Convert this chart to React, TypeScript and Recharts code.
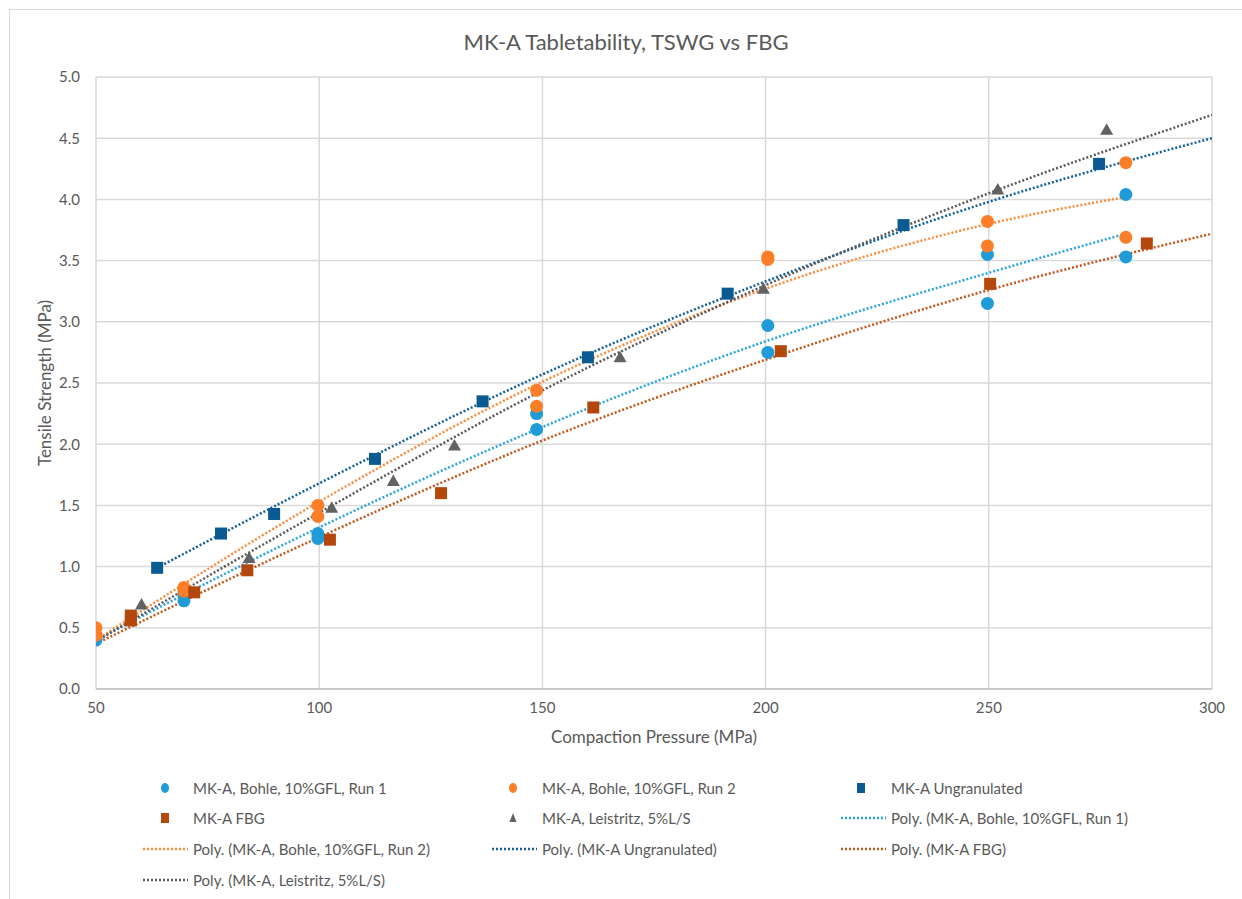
import React from 'react';
import {
  ComposedChart,
  Scatter,
  Line,
  XAxis,
  YAxis,
  CartesianGrid,
} from 'recharts';

// measured points (compaction pressure MPa, tensile strength MPa)
const run1P = [50, 50, 69.7, 69.7, 99.7, 99.7, 148.7, 148.7, 200.5, 200.5, 249.7, 249.7, 280.7, 280.7];
const run1TS = [0.4, 0.42, 0.72, 0.78, 1.27, 1.23, 2.25, 2.12, 2.97, 2.75, 3.55, 3.15, 4.04, 3.53];

const run2P = [50, 50, 69.7, 69.7, 99.7, 99.7, 148.7, 148.7, 200.5, 200.5, 249.7, 249.7, 280.7, 280.7];
const run2TS = [0.5, 0.44, 0.83, 0.8, 1.5, 1.41, 2.44, 2.31, 3.53, 3.51, 3.82, 3.62, 4.3, 3.69];

const ungranP = [63.7, 78, 89.9, 112.5, 136.6, 160.2, 191.5, 230.9, 274.7];
const ungranTS = [0.99, 1.27, 1.43, 1.88, 2.35, 2.71, 3.23, 3.79, 4.29];

const fbgP = [57.8, 57.8, 72, 83.9, 102.4, 127.3, 161.4, 203.4, 250.3, 285.4];
const fbgTS = [0.6, 0.56, 0.79, 0.97, 1.22, 1.6, 2.3, 2.76, 3.31, 3.64];

const leisP = [60.2, 84.3, 102.8, 116.6, 130.3, 167.4, 199.5, 252, 276.4];
const leisTS = [0.69, 1.07, 1.48, 1.7, 1.99, 2.71, 3.27, 4.08, 4.57];

// polynomial trendlines
const run1TrendP = [50, 100, 150, 200, 250, 280.7];
const run1TrendTS = [0.4, 1.32, 2.14, 2.84, 3.4, 3.72];
const run2TrendP = [50, 100, 150, 200, 250, 280.7];
const run2TrendTS = [0.4, 1.53, 2.51, 3.27, 3.8, 4.02];
const ungranTrendP = [63.7, 100, 150, 200, 250, 300];
const ungranTrendTS = [0.99, 1.68, 2.57, 3.33, 3.98, 4.5];
const fbgTrendP = [50, 100, 150, 200, 250, 300];
const fbgTrendTS = [0.37, 1.24, 2.03, 2.69, 3.26, 3.72];
const leisTrendP = [50, 100, 150, 200, 250, 300];
const leisTrendTS = [0.39, 1.44, 2.44, 3.3, 4.05, 4.69];

const xTicks = [50, 100, 150, 200, 250, 300];
const yTicks = [0, 0.5, 1, 1.5, 2, 2.5, 3, 3.5, 4, 4.5, 5];

const zip = (p: number[], ts: number[]) => p.map((v, i) => ({ p: v, ts: ts[i] }));

const C = {
  run1: '#1f9bd7',
  run2: '#fd7e28',
  ungran: '#0b5a91',
  fbg: '#b4470c',
  leis: '#626262',
  run1Trend: '#2aa4e0',
  run2Trend: '#ff8a3a',
  ungranTrend: '#14609a',
  fbgTrend: '#c4561a',
  leisTrend: '#5a5a5a',
};

const FONT = 'Lato, "Open Sans", sans-serif';
const TXT = '#595959';

const dot = (color: string) => (props: any) => (
  <circle cx={props.cx} cy={props.cy} r={6.5} fill={color} />
);
const square = (color: string) => (props: any) => (
  <rect x={props.cx - 6} y={props.cy - 6} width={12} height={12} fill={color} />
);
const triangle = (color: string) => (props: any) => (
  <polygon
    points={`${props.cx},${props.cy - 6.5} ${props.cx + 6.5},${props.cy + 5} ${props.cx - 6.5},${props.cy + 5}`}
    fill={color}
  />
);

const scatterSeries = [
  { name: 'MK-A, Bohle, 10%GFL, Run 1', data: zip(run1P, run1TS), shape: dot(C.run1) },
  { name: 'MK-A, Bohle, 10%GFL, Run 2', data: zip(run2P, run2TS), shape: dot(C.run2) },
  { name: 'MK-A Ungranulated', data: zip(ungranP, ungranTS), shape: square(C.ungran) },
  { name: 'MK-A FBG', data: zip(fbgP, fbgTS), shape: square(C.fbg) },
  { name: 'MK-A, Leistritz, 5%L/S', data: zip(leisP, leisTS), shape: triangle(C.leis) },
];

const trendSeries = [
  { name: 'Poly. (MK-A, Bohle, 10%GFL, Run 1)', data: zip(run1TrendP, run1TrendTS), color: C.run1Trend },
  { name: 'Poly. (MK-A, Bohle, 10%GFL, Run 2)', data: zip(run2TrendP, run2TrendTS), color: C.run2Trend },
  { name: 'Poly. (MK-A Ungranulated)', data: zip(ungranTrendP, ungranTrendTS), color: C.ungranTrend },
  { name: 'Poly. (MK-A FBG)', data: zip(fbgTrendP, fbgTrendTS), color: C.fbgTrend },
  { name: 'Poly. (MK-A, Leistritz, 5%L/S)', data: zip(leisTrendP, leisTrendTS), color: C.leisTrend },
];

type LegendItem = { label: string; kind: 'dot' | 'square' | 'triangle' | 'line'; color: string };

const legendItems: LegendItem[] = [
  { label: scatterSeries[0].name, kind: 'dot', color: C.run1 },
  { label: scatterSeries[1].name, kind: 'dot', color: C.run2 },
  { label: scatterSeries[2].name, kind: 'square', color: C.ungran },
  { label: scatterSeries[3].name, kind: 'square', color: C.fbg },
  { label: scatterSeries[4].name, kind: 'triangle', color: C.leis },
  { label: trendSeries[0].name, kind: 'line', color: C.run1Trend },
  { label: trendSeries[1].name, kind: 'line', color: C.run2Trend },
  { label: trendSeries[2].name, kind: 'line', color: C.ungranTrend },
  { label: trendSeries[3].name, kind: 'line', color: C.fbgTrend },
  { label: trendSeries[4].name, kind: 'line', color: C.leisTrend },
];

const colMarker = [165, 513, 861];
const colText = [193, 542, 891];
const rowY = [788, 818, 849, 880];

function LegendBlock() {
  return (
    <svg width={1242} height={899} style={{ position: 'absolute', left: 0, top: 0, pointerEvents: 'none' }}>
      {legendItems.map((it, i) => {
        const col = i % 3;
        const row = Math.floor(i / 3);
        const cx = colMarker[col];
        const cy = rowY[row];
        let mark: React.ReactNode = null;
        if (it.kind === 'dot') mark = <ellipse cx={cx} cy={cy} rx={4} ry={5} fill={it.color} />;
        if (it.kind === 'square') mark = <rect x={cx - 4} y={cy - 5} width={8} height={10} fill={it.color} />;
        if (it.kind === 'triangle')
          mark = <polygon points={`${cx},${cy - 5} ${cx + 3.5},${cy + 4} ${cx - 3.5},${cy + 4}`} fill={it.color} />;
        if (it.kind === 'line')
          mark = (
            <line
              x1={colText[col] - 50}
              x2={colText[col] - 5}
              y1={cy}
              y2={cy}
              stroke={it.color}
              strokeWidth={2.5}
              strokeDasharray="2 2"
            />
          );
        return (
          <g key={it.label}>
            {mark}
            <text x={colText[col]} y={cy} dominantBaseline="central" fontSize={15} fill={TXT} fontFamily={FONT}>
              {it.label}
            </text>
          </g>
        );
      })}
    </svg>
  );
}

export default function App() {
  return (
    <div style={{ position: 'absolute', left: 0, top: 0, width: 1242, height: 899, overflow: 'hidden', background: '#fff' }}>
      <div
        style={{
          position: 'absolute',
          left: 9,
          top: 9,
          width: 1233,
          height: 890,
          borderLeft: '1px solid #d9d9d9',
          borderTop: '1px solid #d9d9d9',
        }}
      />
      <div style={{ position: 'absolute', left: 0, top: 0 }}>
        <ComposedChart width={1242} height={760} margin={{ top: 77, right: 30, bottom: 11, left: 36 }}>
          <text x={626} y={41} textAnchor="middle" dominantBaseline="central" fontSize={22} fill={TXT} fontFamily={FONT}>
            MK-A Tabletability, TSWG vs FBG
          </text>
          <CartesianGrid stroke="#d9d9d9" strokeWidth={1.5} />
          <XAxis
            type="number"
            dataKey="p"
            domain={[50, 300]}
            ticks={xTicks}
            allowDataOverflow
            height={60}
            tickLine={false}
            axisLine={{ stroke: '#bfbfbf', strokeWidth: 1.5 }}
            tickMargin={7}
            tick={{ fontSize: 15, fill: TXT, fontFamily: FONT }}
            label={{
              value: 'Compaction Pressure (MPa)',
              position: 'insideBottom',
              offset: 6,
              fontSize: 17,
              fill: TXT,
              fontFamily: FONT,
            }}
          />
          <YAxis
            type="number"
            dataKey="ts"
            domain={[0, 5]}
            ticks={yTicks}
            allowDataOverflow
            width={60}
            tickLine={false}
            axisLine={false}
            tickMargin={10}
            tickFormatter={(v: number) => v.toFixed(1)}
            tick={{ fontSize: 15, fill: TXT, fontFamily: FONT }}
            label={{
              content: () => (
                <text
                  x={44}
                  y={383}
                  transform="rotate(-90 44 383)"
                  textAnchor="middle"
                  dominantBaseline="central"
                  fontSize={17}
                  fill={TXT}
                  fontFamily={FONT}
                >
                  Tensile Strength (MPa)
                </text>
              ),
            }}
          />
          {trendSeries.map((s) => (
            <Line
              key={s.name}
              data={s.data}
              dataKey="ts"
              name={s.name}
              type="monotone"
              stroke={s.color}
              strokeWidth={2.5}
              strokeDasharray="2 2"
              dot={false}
              activeDot={false}
              isAnimationActive={false}
            />
          ))}
          {scatterSeries.map((s) => (
            <Scatter
              key={s.name}
              data={s.data}
              dataKey="ts"
              name={s.name}
              shape={s.shape}
              isAnimationActive={false}
            />
          ))}
        </ComposedChart>
      </div>
      <LegendBlock />
    </div>
  );
}
